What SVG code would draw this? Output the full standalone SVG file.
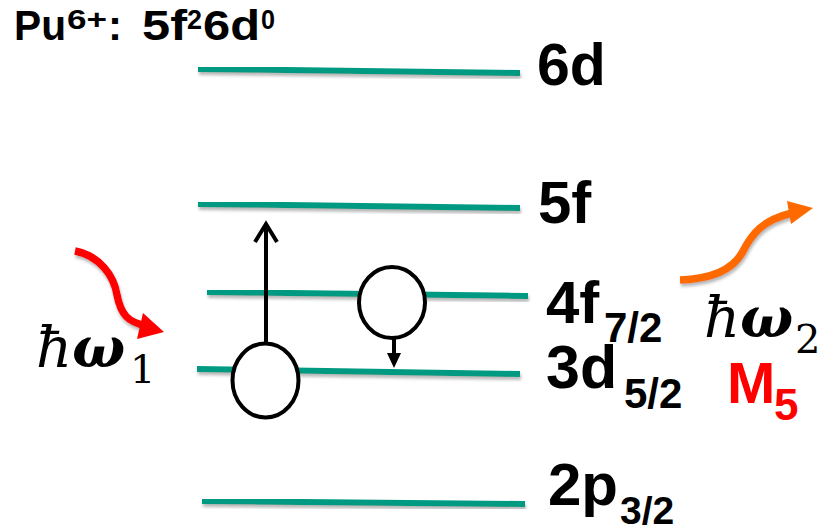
<svg xmlns="http://www.w3.org/2000/svg" width="825" height="531" viewBox="0 0 825 531">
  <defs>
    <filter id="shadow" x="-5%" y="-50%" width="110%" height="300%">
      <feDropShadow dx="1" dy="3" stdDeviation="1.6" flood-color="#808080" flood-opacity="0.55"/>
    </filter>
  </defs>
  <style>
    .level { stroke: #009a82; stroke-width: 6; fill: none; }
    .lbl { font-family: "Liberation Sans", Arial, sans-serif; font-weight: bold; fill: #000; }
    .math { font-family: "DejaVu Serif", "Liberation Serif", serif; fill: #000; }
    .elec { fill: #fff; stroke: #000; stroke-width: 4; }
    .trans { stroke: #000; stroke-width: 4; fill: none; }
  </style>
  <rect width="825" height="531" fill="#fff"/>

  <!-- configuration heading -->
  <g id="title" class="lbl">
    <text x="14" y="40" font-size="42" textLength="52" lengthAdjust="spacingAndGlyphs">Pu</text>
    <text x="67" y="29" font-size="28" textLength="40" lengthAdjust="spacingAndGlyphs">6+</text>
    <text x="108" y="40" font-size="42">:</text>
    <text x="142" y="40" font-size="42" textLength="45" lengthAdjust="spacingAndGlyphs">5f</text>
    <text x="187" y="29" font-size="28" textLength="15" lengthAdjust="spacingAndGlyphs">2</text>
    <text x="203" y="40" font-size="42" textLength="57" lengthAdjust="spacingAndGlyphs">6d</text>
    <text x="261" y="29" font-size="28" textLength="14" lengthAdjust="spacingAndGlyphs">0</text>
  </g>

  <!-- energy levels -->
  <g id="level-6d">
    <line class="level" x1="198" y1="69" x2="520" y2="73" filter="url(#shadow)"/>
    <text class="lbl" x="537" y="85" font-size="59">6d</text>
  </g>
  <g id="level-5f">
    <line class="level" x1="198" y1="204" x2="520" y2="208" filter="url(#shadow)"/>
    <text class="lbl" x="538" y="223" font-size="60">5f</text>
  </g>
  <g id="level-4f72">
    <line class="level" x1="207" y1="292" x2="528" y2="296" filter="url(#shadow)"/>
    <text class="lbl" x="546" y="323" font-size="60">4f</text>
    <text class="lbl" x="604" y="342" font-size="42">7/2</text>
  </g>
  <g id="level-3d52">
    <line class="level" x1="197" y1="369" x2="520" y2="374" filter="url(#shadow)"/>
    <text class="lbl" x="546" y="388" font-size="61">3d</text>
    <text class="lbl" x="624" y="408" font-size="42">5/2</text>
  </g>
  <g id="level-2p32">
    <line class="level" x1="202" y1="501" x2="525" y2="504" filter="url(#shadow)"/>
    <text class="lbl" x="548" y="505" font-size="60">2p</text>
    <text class="lbl" x="620" y="524" font-size="39">3/2</text>
  </g>

  <!-- electron transitions -->
  <g id="connectors">
    <line class="trans" x1="266" y1="343" x2="266" y2="224"/>
    <polyline class="trans" points="255,242 266,224 277,242"/>
    <line class="trans" x1="394" y1="338" x2="394" y2="355"/>
    <polygon points="387,353 401,353 394,368" fill="#000"/>
  </g>

  <!-- core hole and excited electron -->
  <g id="electron-3d">
    <ellipse class="elec" cx="265.5" cy="380.5" rx="33" ry="37"/>
  </g>
  <g id="electron-4f">
    <ellipse class="elec" cx="392" cy="302.5" rx="33" ry="35.5"/>
  </g>

  <!-- incoming photon -->
  <g id="photon-in">
    <path d="M75,251 C100,256 114,276 117,295 C121,315 128,322 146,326" fill="none" stroke="#ff0000" stroke-width="7.5" filter="url(#shadow)"/>
    <polygon points="143,313 164,332 137,339" fill="#ff0000"/>
    <text class="math" x="36" y="367" font-size="56"><tspan font-style="italic">ħ</tspan><tspan font-style="italic" font-weight="bold">ω</tspan></text>
    <text class="math" x="130" y="383" font-size="40">1</text>
  </g>

  <!-- outgoing photon -->
  <g id="photon-out">
    <path d="M680,280 C712,279 732,270 742,253 C752,233 763,220 792,213" fill="none" stroke="#ff6a00" stroke-width="7.5" filter="url(#shadow)"/>
    <polygon points="787,201 813,208 791,224" fill="#ff6a00"/>
    <text class="math" x="704" y="337" font-size="56"><tspan font-style="italic">ħ</tspan><tspan font-style="italic" font-weight="bold">ω</tspan></text>
    <text class="math" x="795" y="353" font-size="40">2</text>
  </g>

  <!-- edge label -->
  <g id="edge-m5" class="lbl">
    <text x="727" y="403" font-size="58" fill="#ff0000">M</text>
    <text x="774" y="420" font-size="44" fill="#ff0000">5</text>
  </g>
</svg>
